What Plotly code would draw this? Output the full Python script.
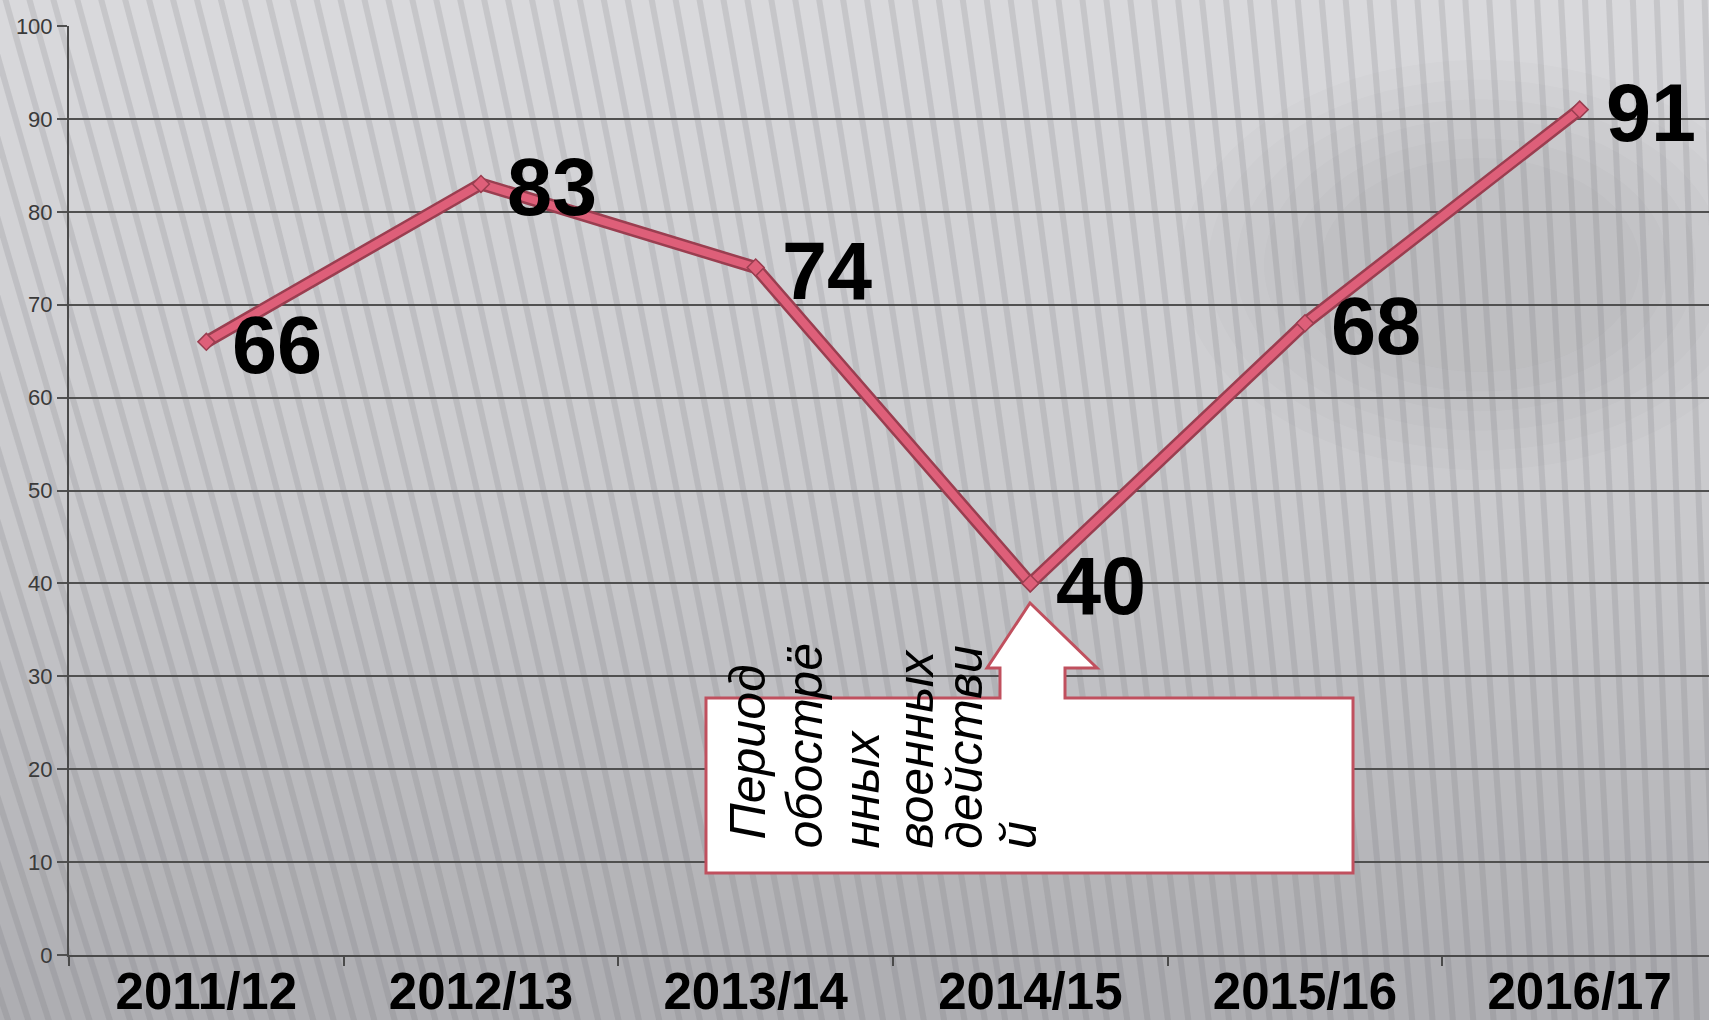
import plotly.graph_objects as go

# данные
years = ['2011/12', '2012/13', '2013/14', '2014/15', '2015/16', '2016/17']
values = [66, 83, 74, 40, 68, 91]
y_ticks = [0, 10, 20, 30, 40, 50, 60, 70, 80, 90, 100]
callout_lines = ['Период', 'обострё', 'нных', 'военных', 'действи', 'й']

W, H = 1709, 1020
# границы области графика в пикселях
L, R, T, B = 69, 1709, 26, 955
CAT_W = 274.7  # ширина одной категории, px


def px(x):
    return (x - L) / (R - L)


def py(y):
    return (B - y) / (B - T)


def mix(c1, c2, t):
    return 'rgb(%d,%d,%d)' % tuple(round(a + (b - a) * t) for a, b in zip(c1, c2))


shapes = []
# фон: вертикальный градиент
top_c, mid_c, bot_c = (217, 217, 220), (201, 201, 204), (172, 172, 176)
for k in range(36):
    y0 = k * 30
    t = min(y0 / H, 1)
    c = mix(top_c, mid_c, t * 2) if t < 0.5 else mix(mid_c, bot_c, (t - 0.5) * 2)
    shapes.append(dict(type='rect', xref='paper', yref='paper', layer='below',
                       x0=px(-20), x1=px(W + 20), y0=py(y0 + 31), y1=py(y0),
                       fillcolor=c, line=dict(width=0)))

# мягкая тень справа вверху
for k in range(6):
    d = k * 28
    shapes.append(dict(type='circle', xref='paper', yref='paper', layer='below',
                       x0=px(1180 + d), x1=px(1780 - d), y0=py(470 - d * 0.7), y1=py(60 + d * 0.7),
                       fillcolor='rgba(80,80,88,0.014)', line=dict(width=0)))

# фон: полосы, сходящиеся к точке далеко внизу справа
vx, vy = 1926, 6820
for i in range(-20, 75):
    xt = i * 24
    yb = H + 20
    xb = xt + (vx - xt) * (yb + 20) / (vy + 20)
    shapes.append(dict(type='line', xref='paper', yref='paper', layer='below',
                       x0=px(xt), y0=py(-20), x1=px(xb), y1=py(yb),
                       line=dict(color='rgba(100,100,108,0.16)', width=6)))

# выноска со стрелкой
pts = [(706, 698), (1000, 698), (1000, 668), (987, 668), (1030, 603), (1097, 668),
       (1065, 668), (1065, 698), (1353, 698), (1353, 873), (706, 873)]
path = 'M ' + ' L '.join('%.5f,%.5f' % (px(a), py(b)) for a, b in pts) + ' Z'
shapes.append(dict(type='path', xref='paper', yref='paper', layer='above', path=path,
                   fillcolor='white', line=dict(color='#C0505E', width=3)))

fig = go.Figure()
fig.add_trace(go.Scatter(x=years, y=values, mode='lines',
                         line=dict(color='#9A3E50', width=13),
                         hoverinfo='skip', showlegend=False))
fig.add_trace(go.Scatter(x=years, y=values, mode='lines+markers',
                         line=dict(color='#DE5F79', width=8),
                         marker=dict(symbol='diamond', size=13, color='#DE5F79',
                                     line=dict(color='#9A3E50', width=1.5)),
                         showlegend=False))

annotations = []
for yr, v in zip(years, values):
    annotations.append(dict(x=yr, y=v, text=str(v), showarrow=False,
                            xanchor='left', yanchor='middle', xshift=24, yshift=-3,
                            font=dict(family='Liberation Sans', size=81, color='black',
                                      weight='bold')))

col_x = [747, 804, 861, 915, 965, 1019]
col_y = [842, 851, 851, 851, 851, 851]
for cx, cy, line in zip(col_x, col_y, callout_lines):
    annotations.append(dict(x=px(cx), y=py(cy), xref='paper', yref='paper',
                            text=line, textangle=-90, showarrow=False,
                            xanchor='center', yanchor='bottom',
                            font=dict(family='Liberation Sans', size=50, color='black',
                                      style='italic')))

fig.update_layout(
    width=W, height=H,
    margin=dict(l=L, r=W - R, t=T, b=H - B),
    paper_bgcolor='#D6D6D9',
    plot_bgcolor='rgba(0,0,0,0)',
    shapes=shapes,
    annotations=annotations,
    xaxis=dict(type='category', range=[-0.5, 5.5 - 8 / CAT_W], showgrid=False,
               automargin=False,
               showline=True, linecolor='#4A4A4A', linewidth=2,
               ticks='outside', tickson='boundaries', ticklen=9, tickcolor='#4A4A4A',
               tickwidth=1.5, ticklabelstandoff=-9,
               tickfont=dict(family='Liberation Sans', size=51, color='black',
                             weight='bold')),
    yaxis=dict(range=[0, 100], tickvals=y_ticks, showgrid=True, automargin=False,
               gridcolor='#505050', gridwidth=2, zeroline=False,
               showline=True, linecolor='#4A4A4A', linewidth=2,
               ticks='outside', ticklen=10, tickcolor='#505050', tickwidth=2,
               tickfont=dict(family='Liberation Sans', size=22, color='#3A3A3A')),
)

fig.write_html('out.html', config={'displayModeBar': False},
               post_script="document.body.style.margin='0';")
